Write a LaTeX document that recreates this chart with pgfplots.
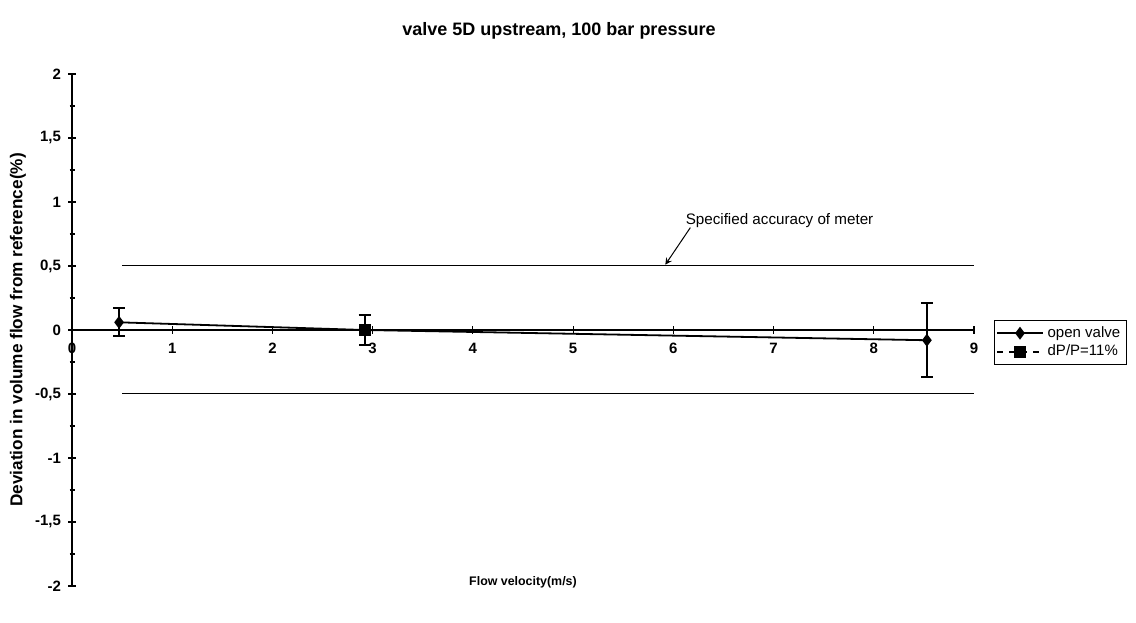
\documentclass[border=0pt]{standalone}
\usepackage{pgfplots}
\pgfplotsset{compat=1.18}
\usepackage{fontspec}
\setmainfont{Liberation Sans}
\begin{document}
\begin{tikzpicture}[x=1pt,y=1pt]
\path[use as bounding box] (0,0) rectangle (568,311);
\begin{axis}[
  at={(36pt,18pt)}, anchor=south west,
  width=451pt, height=256pt, scale only axis=true,
  xmin=0, xmax=9, ymin=-2, ymax=2,
  axis x line=middle, axis y line=left,
  hide obscured x ticks=false,
  axis line style={-, line width=0.6pt},
  xtick={0,1,...,9}, ytick={-2,-1.5,...,2},
  minor y tick num=1,
  tick style={black, line width=0.6pt},
  major tick length=4pt, minor tick length=2.5pt,
  tick align=center,
  x tick label style={font=\fontsize{7.5}{8}\selectfont\bfseries, yshift=-1pt},
  y tick label style={font=\fontsize{7.5}{8}\selectfont\bfseries},
  /pgf/number format/assume math mode=true,
  /pgf/number format/use comma,
  scaled ticks=false,
  clip=false,
  title={\fontsize{9}{10}\selectfont\bfseries valve 5D upstream, 100 bar pressure},
  title style={at={(axis description cs:0.5,1)}, anchor=center, yshift=15.5pt, xshift=18pt},
  xlabel={\fontsize{6.2}{7}\selectfont\bfseries Flow velocity(m/s)},
  xlabel style={at={(axis description cs:0.5,0.008)}, anchor=center},
  ylabel={\fontsize{8.6}{9}\selectfont\bfseries Deviation in volume flow from reference(\%)},
  ylabel style={at={(axis description cs:-0.060,0.5)}, anchor=center},
  legend style={at={(1.022,0.52)}, anchor=north west, draw=black, line width=0.5pt,
    font=\fontsize{7.5}{8}\selectfont, inner sep=1pt, row sep=-1.5pt, cells={anchor=west}},
  legend cell align=left,
  legend image code/.code={%
    \draw[mark repeat=2,mark phase=2,#1] plot coordinates {(0cm,0cm) (0.4cm,0cm) (0.8cm,0cm)};},
]
\addplot[black, line width=0.9pt, mark=diamond*, mark size=2.5pt,
  error bars/.cd, y dir=both, y explicit, error bar style={line width=0.9pt},
  error mark options={rotate=90, mark size=3pt, line width=0.9pt}]
  table[x=x, y=y, y error=e] {
  x y e
  0.47 0.06 0.11
  2.92 0.00 0.12
  8.53 -0.08 0.29
};
\addlegendentry{open valve}
\addplot[black, dashed, line width=0.9pt, mark=square*, mark size=2.5pt,
  mark options={solid}]
  coordinates {(2.92,0.0)};
\addlegendentry{dP/P=11\%}
\addplot[black, line width=0.5pt, forget plot] coordinates {(0.5,0.5) (9,0.5)};
\addplot[black, line width=0.5pt, forget plot] coordinates {(0.5,-0.5) (9,-0.5)};
\draw[-stealth, line width=0.5pt] (axis cs:6.17,0.80) -- (axis cs:5.92,0.51);
\node[anchor=south west, inner sep=0pt, font=\fontsize{7.6}{8}\selectfont] at (axis cs:6.12,0.80) {Specified accuracy of meter};
\end{axis}
\end{tikzpicture}
\end{document}
